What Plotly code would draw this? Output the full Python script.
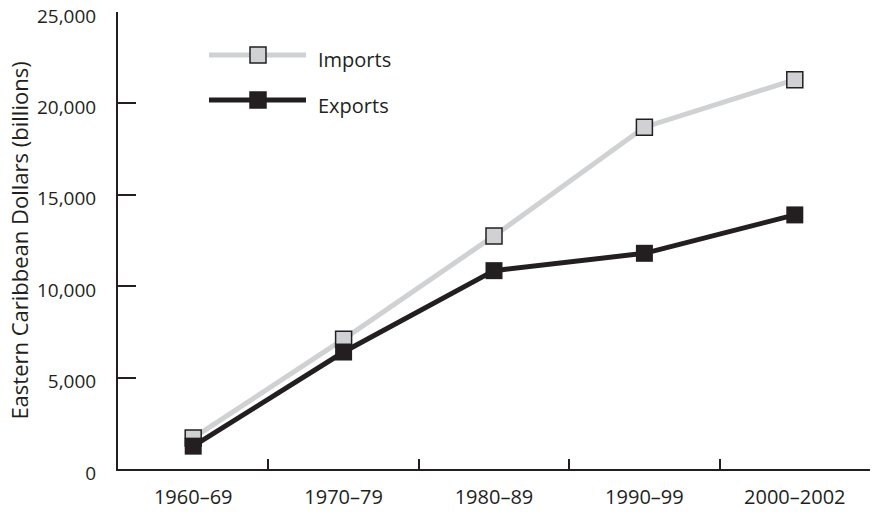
import plotly.graph_objects as go

categories = ["1960–69", "1970–79", "1980–89", "1990–99", "2000–2002"]
imports = [1700, 7100, 12750, 18700, 21300]
exports = [1250, 6400, 10850, 11800, 13900]
y_ticks = [0, 5000, 10000, 15000, 20000, 25000]
y_ticklabels = ["0", "5,000", "10,000", "15,000", "20,000", "25,000"]

INK = "#231f20"
GREY = "#d0d1d3"
FONT = "Open Sans"

W, H = 877, 515
# plot-area edges in page pixels
PX0, PX1, PY0, PY1 = 118, 870, 12, 469
L, R, T, B = PX0, W - PX1, PY0, H - PY1
pw, ph = PX1 - PX0, PY1 - PY0

def px(x):
    return (x - PX0) / pw

def py(y):
    return (PY1 - y) / ph

fig = go.Figure()
fig.add_trace(go.Scatter(
    x=categories, y=imports, mode="lines+markers", name="Imports",
    line=dict(color=GREY, width=5),
    marker=dict(symbol="square", size=16, color=GREY, line=dict(color=INK, width=1.5)),
    cliponaxis=False, showlegend=False))
fig.add_trace(go.Scatter(
    x=categories, y=exports, mode="lines+markers", name="Exports",
    line=dict(color=INK, width=5),
    marker=dict(symbol="square", size=17, color=INK, line=dict(color=INK, width=0)),
    cliponaxis=False, showlegend=False))

# Manual legend (long line swatches)
shapes = []
annotations = []
for name, col, border, ly in [("Imports", GREY, INK, 55), ("Exports", INK, INK, 100)]:
    shapes.append(dict(type="line", xref="paper", yref="paper",
                       x0=px(209), x1=px(306), y0=py(ly), y1=py(ly),
                       line=dict(color=col, width=5)))
    shapes.append(dict(type="rect", xref="paper", yref="paper",
                       x0=px(250), x1=px(266), y0=py(ly - 8), y1=py(ly + 8),
                       fillcolor=col, line=dict(color=border, width=1.5)))
    annotations.append(dict(text=name, xref="paper", yref="paper",
                            x=px(316), y=py(ly + 5), xanchor="left", yanchor="middle",
                            showarrow=False, font=dict(family=FONT, size=20, color=INK)))

fig.update_layout(
    width=W, height=H,
    margin=dict(l=L, r=R, t=T, b=B, autoexpand=False),
    paper_bgcolor="white", plot_bgcolor="white",
    font=dict(family=FONT, size=20, color=INK),
    shapes=shapes, annotations=annotations,
    xaxis=dict(
        type="category", range=[-0.5, 4.5], tickson="boundaries",
        showgrid=False, zeroline=False, showline=True, linecolor=INK, linewidth=2,
        ticks="inside", ticklen=10, tickwidth=2, tickcolor=INK, automargin=False,
        tickfont=dict(family=FONT, size=20, color=INK), ticklabelstandoff=9,
    ),
    yaxis=dict(
        range=[0, 25000], tickvals=y_ticks, ticktext=y_ticklabels,
        showgrid=False, zeroline=False, showline=True, linecolor=INK, linewidth=2,
        ticks="inside", ticklen=18, tickwidth=2, tickcolor=INK, automargin=False,
        tickfont=dict(family=FONT, size=19, color=INK), ticklabelstandoff=16,
        ticklabelshift=4, ticklabeloverflow="allow",
        title=dict(text="Eastern Caribbean Dollars (billions)",
                   font=dict(family=FONT, size=22, color=INK), standoff=2),
    ),
)

fig.write_html("out.html", config={"displayModeBar": False},
               post_script="document.body.style.margin='0';")
